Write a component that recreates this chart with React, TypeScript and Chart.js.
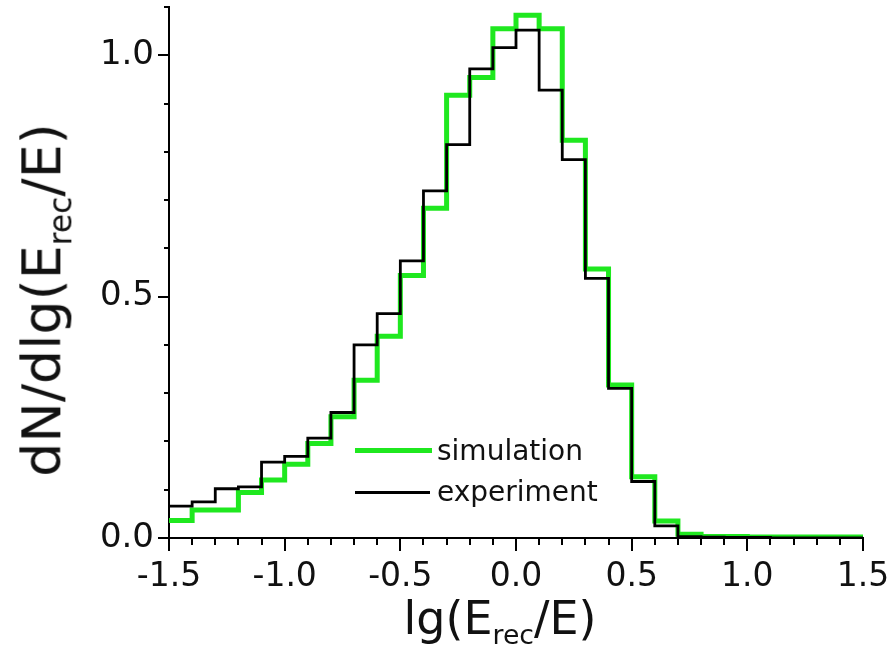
import React, { useEffect, useRef } from "react";
import { Chart, registerables } from "chart.js";

Chart.register(...registerables);

// Left edges of the histogram bins (bin width 0.1)
const binEdges = [
  -1.5, -1.4, -1.3, -1.2, -1.1, -1.0, -0.9, -0.8, -0.7, -0.6,
  -0.5, -0.4, -0.3, -0.2, -0.1, 0.0, 0.1, 0.2, 0.3, 0.4,
  0.5, 0.6, 0.7, 0.8, 0.9, 1.0, 1.1, 1.2, 1.3, 1.4,
];
const lastEdge = 1.5;

const simulation = [
  0.036, 0.058, 0.058, 0.094, 0.12, 0.153, 0.196, 0.251, 0.327, 0.418,
  0.544, 0.683, 0.917, 0.954, 1.055, 1.083, 1.055, 0.824, 0.557, 0.317,
  0.127, 0.035, 0.008, 0.003, 0.003, 0.002, 0.002, 0.002, 0.002, 0.002,
];

const experiment = [
  0.066, 0.075, 0.102, 0.106, 0.157, 0.169, 0.207, 0.26, 0.4, 0.465,
  0.574, 0.719, 0.815, 0.972, 1.016, 1.052, 0.928, 0.784, 0.538, 0.31,
  0.117, 0.025, 0.003, 0.002, 0.001, 0.001, 0, 0, 0, 0,
];

const xTickLabels = ["-1.5", "-1.0", "-0.5", "0.0", "0.5", "1.0", "1.5"];
const yTickLabels = ["0.0", "0.5", "1.0"];

const seriesNames = ["simulation", "experiment"];
const seriesColors = ["#1fe81f", "#000000"];

const FONT = "'DejaVu Sans', 'Liberation Sans', Arial, sans-serif";

function stepPoints(values: number[]) {
  const pts = binEdges.map((x, i) => ({ x, y: values[i] }));
  pts.push({ x: lastEdge, y: values[values.length - 1] });
  return pts;
}

function labelFor(list: string[], value: number) {
  const hit = list.find((l) => Math.abs(Number(l) - value) < 1e-6);
  return hit === undefined ? "" : hit;
}

const tickMarks = {
  id: "tickMarks",
  afterDraw(chart: any) {
    const ctx = chart.ctx;
    const xs = chart.scales.x;
    const ys = chart.scales.y;
    ctx.save();
    ctx.strokeStyle = "#000";
    ctx.lineWidth = 2;
    xs.ticks.forEach((t: any) => {
      const px = Math.round(xs.getPixelForValue(t.value));
      const major = labelFor(xTickLabels, t.value) !== "";
      ctx.beginPath();
      ctx.moveTo(px, xs.top);
      ctx.lineTo(px, xs.top + (major ? 13 : 7));
      ctx.stroke();
    });
    ys.ticks.forEach((t: any) => {
      const py = Math.round(ys.getPixelForValue(t.value));
      const major = labelFor(yTickLabels, t.value) !== "";
      ctx.beginPath();
      ctx.moveTo(ys.right, py);
      ctx.lineTo(ys.right - (major ? 11 : 5), py);
      ctx.stroke();
    });
    ctx.restore();
  },
};

function zeroPadding(s: any) {
  s.paddingTop = 0;
  s.paddingBottom = 0;
  s.paddingLeft = 0;
  s.paddingRight = 0;
}

export default function App() {
  const canvasRef = useRef<HTMLCanvasElement | null>(null);

  useEffect(() => {
    document.body.style.margin = "0";
    document.body.style.overflow = "hidden";
    const canvas = canvasRef.current;
    if (!canvas) return;
    const chart = new Chart(canvas, {
      type: "line",
      data: {
        datasets: [
          {
            label: seriesNames[0],
            data: stepPoints(simulation),
            borderColor: seriesColors[0],
            borderWidth: 5,
            stepped: "before",
            pointRadius: 0,
            fill: false,
            order: 2,
          },
          {
            label: seriesNames[1],
            data: stepPoints(experiment),
            borderColor: seriesColors[1],
            borderWidth: 2.8,
            stepped: "before",
            pointRadius: 0,
            fill: false,
            order: 1,
          },
        ],
      },
      options: {
        animation: false,
        responsive: true,
        maintainAspectRatio: false,
        layout: { padding: { top: 7, right: 30, left: 0, bottom: 0 } },
        plugins: {
          legend: { display: false },
          tooltip: { enabled: false },
        },
        scales: {
          x: {
            type: "linear",
            min: -1.5,
            max: 1.5,
            grid: { display: false, drawTicks: false },
            border: { display: true, color: "#000", width: 2 },
            ticks: {
              stepSize: 0.1,
              autoSkip: false,
              maxRotation: 0,
              padding: 20,
              color: "#111",
              font: { family: FONT, size: 33 },
              callback: (v: any) => labelFor(xTickLabels, Number(v)),
            },
            afterFit: (s: any) => {
              s.height = 114;
              zeroPadding(s);
            },
          },
          y: {
            type: "linear",
            min: 0,
            max: 1.1,
            grid: { display: false, drawTicks: false },
            border: { display: true, color: "#000", width: 2 },
            ticks: {
              stepSize: 0.1,
              autoSkip: false,
              padding: 15,
              color: "#111",
              font: { family: FONT, size: 34 },
              callback: (v: any) => labelFor(yTickLabels, Number(v)),
            },
            afterFit: (s: any) => {
              s.width = 169;
              zeroPadding(s);
            },
          },
        },
      },
      plugins: [tickMarks],
    });
    return () => chart.destroy();
  }, []);

  const textStyle: React.CSSProperties = {
    position: "absolute",
    fontFamily: FONT,
    color: "#111",
    whiteSpace: "nowrap",
    lineHeight: 1,
  };
  const sub: React.CSSProperties = { fontSize: "0.58em", verticalAlign: "-0.35em" };

  return (
    <div style={{ position: "relative", width: 893, height: 652, background: "#fff", overflow: "hidden" }}>
      <canvas ref={canvasRef} />
      <div
        style={{
          ...textStyle,
          fontSize: 54,
          left: 46,
          top: 300,
          transform: "translate(-50%, -50%) rotate(-90deg)",
        }}
      >
        dN/dlg(E<span style={sub}>rec</span>/E)
      </div>
      <div
        style={{
          ...textStyle,
          fontSize: 46,
          left: 500,
          top: 622,
          transform: "translate(-50%, -50%)",
        }}
      >
        lg(E<span style={sub}>rec</span>/E)
      </div>
      {/* legend */}
      <div style={{ position: "absolute", left: 355, top: 448, width: 77, height: 5, background: seriesColors[0] }} />
      <div style={{ ...textStyle, fontSize: 28, left: 437, top: 451, transform: "translateY(-50%)" }}>
        {seriesNames[0]}
      </div>
      <div style={{ position: "absolute", left: 355, top: 491, width: 75, height: 3, background: seriesColors[1] }} />
      <div style={{ ...textStyle, fontSize: 28, left: 437, top: 492, transform: "translateY(-50%)" }}>
        {seriesNames[1]}
      </div>
    </div>
  );
}
